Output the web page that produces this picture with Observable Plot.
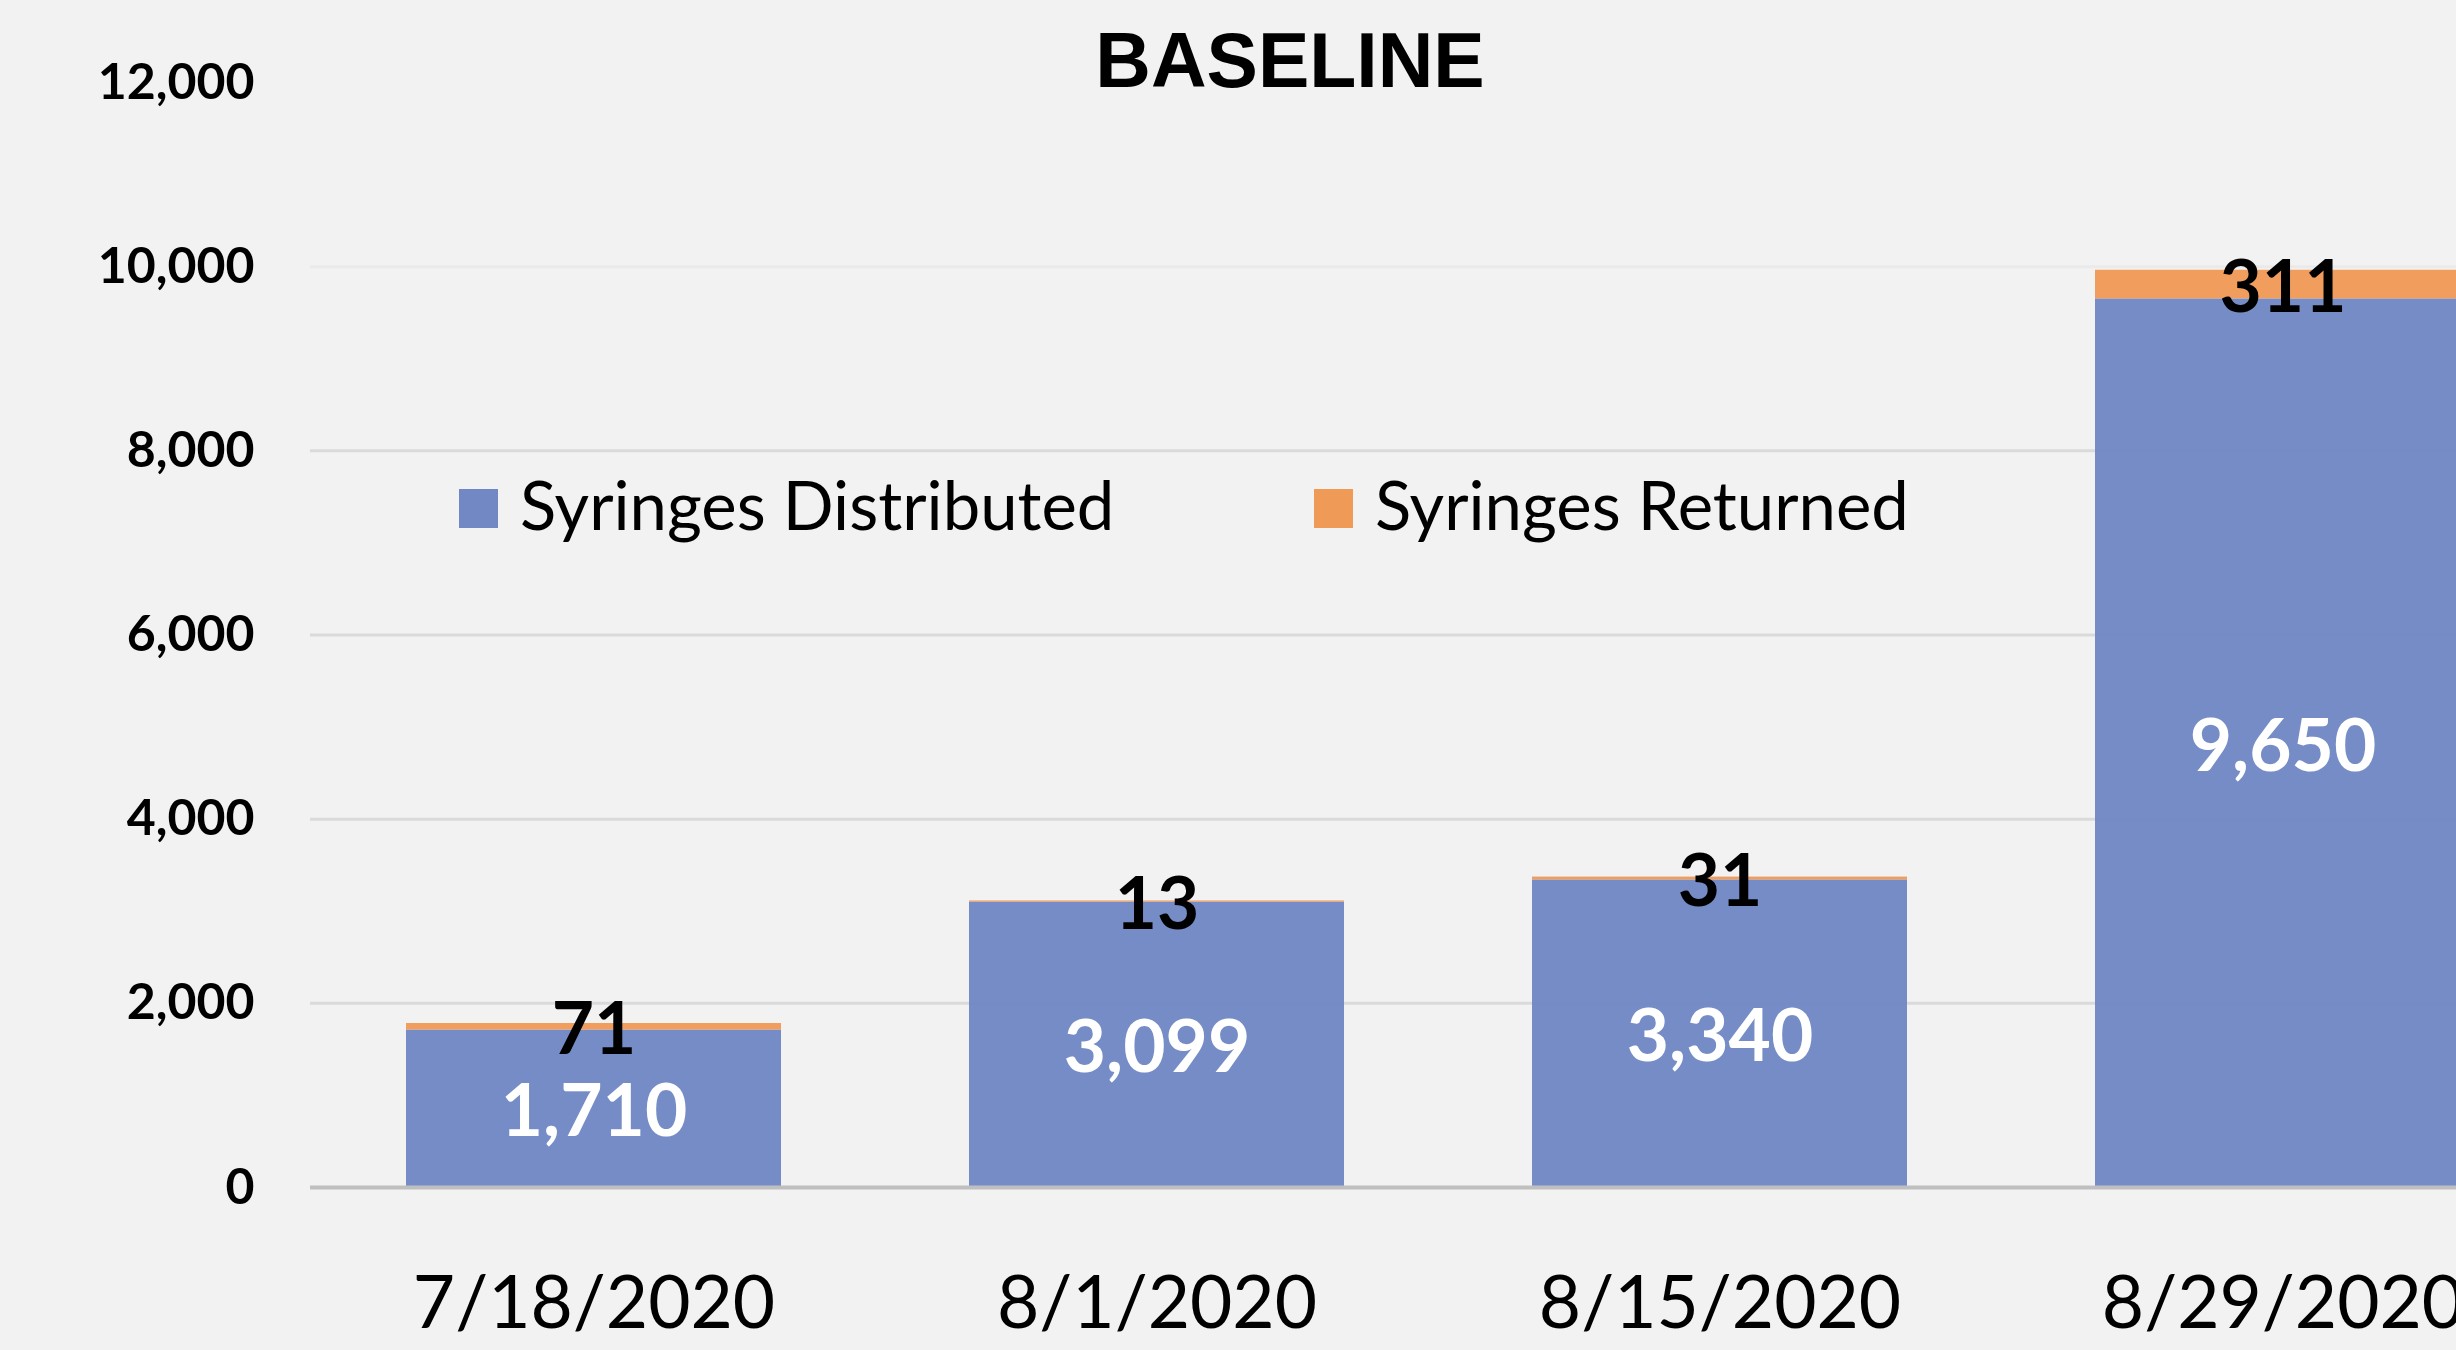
<!DOCTYPE html>
<html>
<head>
<meta charset="utf-8">
<script src="https://cdn.jsdelivr.net/npm/d3@7"></script>
<script src="https://cdn.jsdelivr.net/npm/@observablehq/plot@0.6"></script>
<style>
  html, body { margin: 0; padding: 0; background: #F2F2F2; overflow: hidden; width: 2456px; height: 1350px; }
  #wrap { position: relative; width: 2456px; height: 1350px; overflow: hidden; }
  #chart { position: absolute; left: 0; top: 0; }
  #title { position: absolute; left: 0; width: 2580px; top: 22px; text-align: center;
           font-family: "Liberation Sans", Arial, sans-serif; font-weight: bold; font-size: 77px; line-height: 77px; color: #000; }
  .sw { position: absolute; width: 39px; height: 39px; top: 489px; }
  .lt { position: absolute; top: 464px; font-family: Lato, "Open Sans", sans-serif; font-size: 67px; line-height: 80px; color: #000; white-space: nowrap; }
</style>
</head>
<body>
<div id="wrap">
  <div id="chart"></div>
  <div id="title">BASELINE</div>
  <div id="legend"></div>
</div>
<script>
const dates = ["7/18/2020", "8/1/2020", "8/15/2020", "8/29/2020"];
const distributed = [1710, 3099, 3340, 9650];
const returned = [71, 13, 31, 311];
const seriesNames = ["Syringes Distributed", "Syringes Returned"];
const seriesColors = ["#7188C4", "#F09A58"];
const yTicks = [0, 2000, 4000, 6000, 8000, 10000, 12000];
const gridValues = [2000, 4000, 6000, 8000];
const faintGridValues = [10000];

const data = dates.flatMap((d, i) => [
  {date: d, series: seriesNames[0], value: distributed[i]},
  {date: d, series: seriesNames[1], value: returned[i]}
]);
const fmt = d3.format(",");

const chart = Plot.plot({
  width: 2456,
  height: 1350,
  marginLeft: 310,
  marginRight: 0,
  marginTop: 82,
  marginBottom: 163,
  style: {background: "#F2F2F2", fontFamily: "Lato, 'Open Sans', sans-serif", color: "#000", overflow: "hidden"},
  x: {domain: dates, range: [310, 2566], paddingInner: 0.3333, paddingOuter: 0.16667, label: null},
  y: {domain: [0, 12000], label: null},
  color: {domain: seriesNames, range: seriesColors},
  marks: [
    Plot.ruleY(gridValues, {stroke: "#DADADA", strokeWidth: 3}),
    Plot.ruleY(faintGridValues, {stroke: "#EAEAEA", strokeWidth: 3}),
    Plot.barY(data, {x: "date", y: "value", fill: "series", z: "series", fillOpacity: 0.97}),
    Plot.ruleY([0], {stroke: "#BFBFBF", strokeWidth: 4}),
    Plot.axisY({ticks: yTicks, tickSize: 0, tickPadding: 56, tickFormat: fmt, fontSize: 50, fontWeight: "bold", label: null}),
    Plot.axisX({tickSize: 0, tickPadding: 89, fontSize: 73, label: null}),
    Plot.text(data, Plot.stackY({x: "date", y: "value", z: "series",
      text: d => d.series === seriesNames[0] ? fmt(d.value) : null,
      fill: "white", fontSize: 73, fontWeight: "bold", dy: 4})),
    Plot.text(data, Plot.stackY({x: "date", y: "value", z: "series",
      text: d => d.series === seriesNames[1] ? fmt(d.value) : null,
      fill: "black", fontSize: 73, fontWeight: "bold", dy: 4}))
  ]
});
document.getElementById("chart").appendChild(chart);

const legend = document.getElementById("legend");
const legendX = [[459, 520], [1314, 1375]];
seriesNames.forEach((name, i) => {
  const sw = document.createElement("div");
  sw.className = "sw";
  sw.style.left = legendX[i][0] + "px";
  sw.style.background = seriesColors[i];
  legend.appendChild(sw);
  const t = document.createElement("div");
  t.className = "lt";
  t.style.left = legendX[i][1] + "px";
  t.textContent = name;
  legend.appendChild(t);
});
</script>
</body>
</html>
